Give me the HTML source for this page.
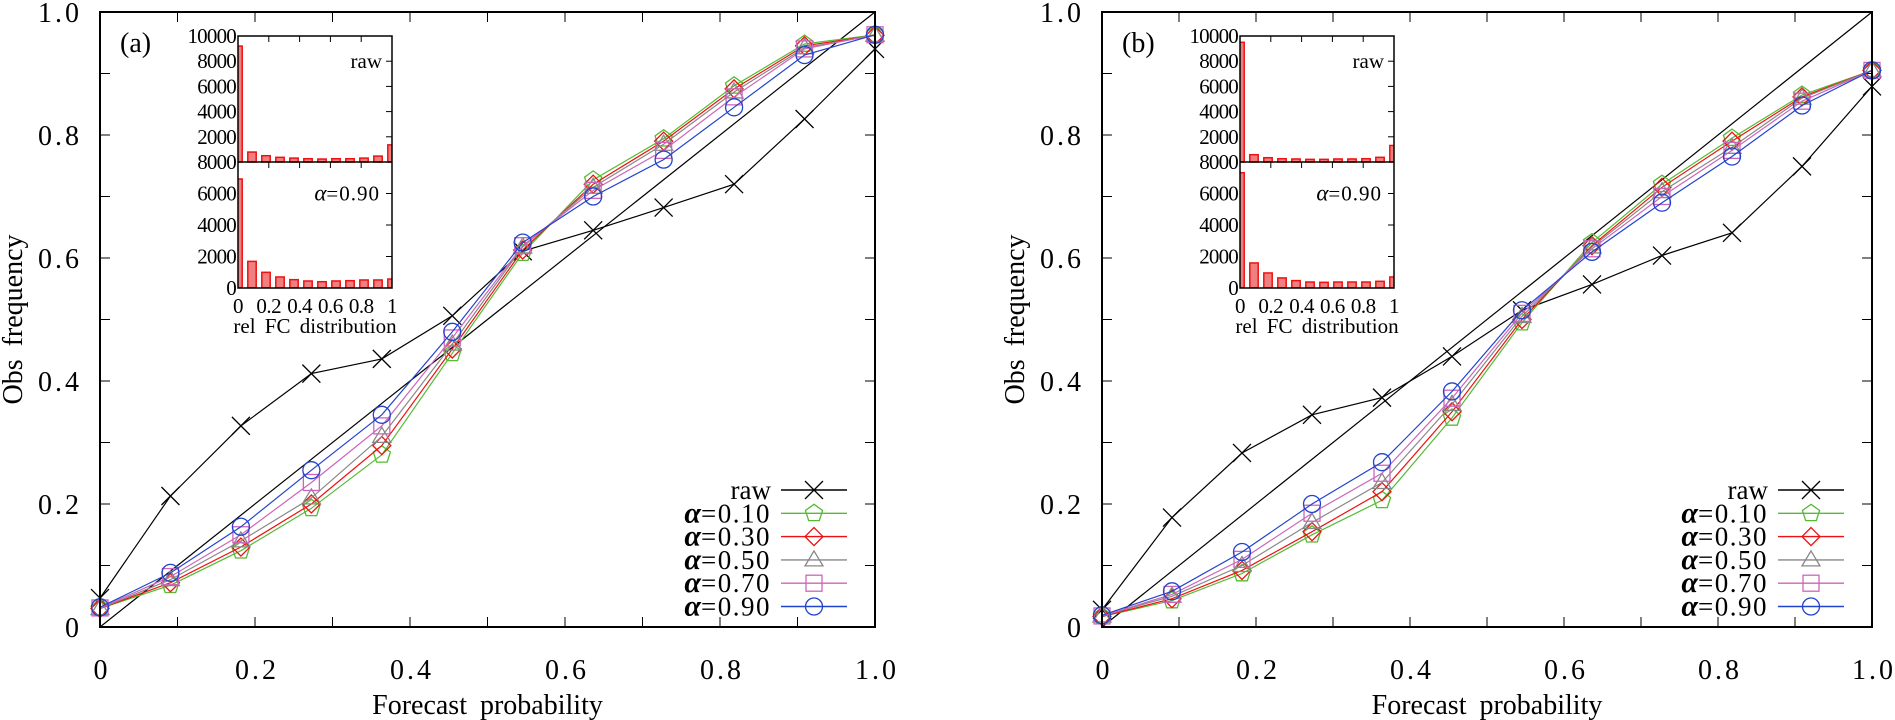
<!DOCTYPE html>
<html><head><meta charset="utf-8">
<style>
html,body{margin:0;padding:0;background:#fff;}
svg{display:block;}
svg text, svg tspan{font-family:"Liberation Serif","DejaVu Serif",serif;}
</style></head>
<body>
<svg id="chart" width="1895" height="720" viewBox="0 0 1895 720" xmlns="http://www.w3.org/2000/svg" font-family="Liberation Serif, serif"></svg>
<script>
// ---- data ----
const fcProb = [0,1/11,2/11,3/11,4/11,5/11,6/11,7/11,8/11,9/11,10/11,1];
const seriesNames = ["raw","α=0.10","α=0.30","α=0.50","α=0.70","α=0.90"];
const xTickLabels = ["0","0.2","0.4","0.6","0.8","1.0"];
const yTickLabels = ["0","0.2","0.4","0.6","0.8","1.0"];
const insetXLabels = ["0","0.2","0.4","0.6","0.8","1"];
const insetTopLabels = ["10000","8000","6000","4000","2000"];
const insetBotLabels = ["8000","6000","4000","2000","0"];

const aRaw  = [0.047,0.213,0.327,0.412,0.436,0.506,0.611,0.645,0.682,0.720,0.826,0.940];
const aA10  = [0.030,0.068,0.124,0.193,0.280,0.445,0.608,0.727,0.794,0.880,0.948,0.963];
const aA30  = [0.030,0.072,0.130,0.200,0.295,0.452,0.613,0.720,0.790,0.875,0.945,0.962];
const aA50  = [0.030,0.077,0.140,0.210,0.310,0.460,0.618,0.715,0.785,0.870,0.942,0.962];
const aA70  = [0.031,0.082,0.150,0.235,0.327,0.470,0.620,0.710,0.775,0.862,0.940,0.963];
const aA90  = [0.032,0.088,0.163,0.255,0.345,0.480,0.625,0.700,0.760,0.845,0.930,0.963];
const aHistRaw = [9200,790,500,370,310,260,235,260,260,310,470,1360];
const aHistA90 = [6920,1690,995,700,530,445,400,445,465,510,510,570];

const bRaw  = [0.028,0.178,0.283,0.345,0.373,0.440,0.515,0.557,0.604,0.641,0.749,0.879];
const bA10  = [0.017,0.043,0.087,0.150,0.206,0.340,0.495,0.625,0.720,0.795,0.865,0.905];
const bA30  = [0.017,0.046,0.092,0.155,0.220,0.350,0.500,0.620,0.715,0.790,0.862,0.905];
const bA50  = [0.018,0.050,0.100,0.170,0.235,0.362,0.505,0.618,0.708,0.780,0.860,0.905];
const bA70  = [0.018,0.053,0.110,0.185,0.250,0.372,0.510,0.615,0.700,0.775,0.855,0.905];
const bA90  = [0.019,0.058,0.122,0.200,0.268,0.383,0.515,0.610,0.690,0.765,0.848,0.905];
const bHistRaw = [9500,580,340,260,240,210,210,240,240,260,370,1310];
const bHistA90 = [7320,1590,955,640,470,380,360,380,380,380,425,700];

// ---- drawing ----
const NS="http://www.w3.org/2000/svg";
const svg=document.getElementById('chart');
function mk(tag,attrs,parent){const e=document.createElementNS(NS,tag);for(const k in attrs)e.setAttribute(k,attrs[k]);(parent||svg).appendChild(e);return e;}
const colors=["#000000","#55bb33","#ee1111","#888888","#cc66bb","#2244cc"];
const markerTypes=["cross","pentagon","diamond","triangle","square","circle"];

function marker(g,type,cx,cy,col){
  let e;
  if(type==="cross"){
    e=mk('path',{d:`M${cx-9},${cy-9}L${cx+9},${cy+9}M${cx-9},${cy+9}L${cx+9},${cy-9}`,stroke:col,'stroke-width':1.3,fill:'none'},g);
  }else if(type==="circle"){
    e=mk('circle',{cx:cx,cy:cy,r:8.5,stroke:col,'stroke-width':1.3,fill:'none'},g);
  }else if(type==="square"){
    e=mk('rect',{x:cx-8,y:cy-8,width:16,height:16,stroke:col,'stroke-width':1.3,fill:'none'},g);
  }else if(type==="diamond"){
    e=mk('path',{d:`M${cx},${cy-9}L${cx+9},${cy}L${cx},${cy+9}L${cx-9},${cy}Z`,stroke:col,'stroke-width':1.3,fill:'none'},g);
  }else if(type==="triangle"){
    e=mk('path',{d:`M${cx},${cy-9}L${cx+9},${cy+6}L${cx-9},${cy+6}Z`,stroke:col,'stroke-width':1.3,fill:'none'},g);
  }else{
    let p=[];for(let i=0;i<5;i++){const a=-Math.PI/2+i*2*Math.PI/5;p.push((cx+9*Math.cos(a)).toFixed(1)+','+(cy+9*Math.sin(a)).toFixed(1));}
    e=mk('polygon',{points:p.join(' '),stroke:col,'stroke-width':1.3,fill:'none'},g);
  }
  
  
  return e;
}

function drawInset(g,L,R,T,M,B,histRaw,histA90){
  const ix=v=>L+v*(R-L);
  const iyT=v=>M-v/10000*(M-T);
  const iyB=v=>B-v/8000*(B-M);
  const bw=(R-L)/11*0.6;
  const clip='clip'+L;
  const cp=mk('clipPath',{id:clip},g);mk('rect',{x:L,y:T,width:R-L,height:B-T},cp);
  const bars=mk('g',{'clip-path':`url(#${clip})`},g);
  
  
  histRaw.forEach((v,i)=>{const b=mk('rect',{x:ix(fcProb[i])-bw/2,y:iyT(v),width:bw,height:M-iyT(v),fill:'#f08080',stroke:'#ee1111','stroke-width':1.5},bars);
    });
  histA90.forEach((v,i)=>{const b=mk('rect',{x:ix(fcProb[i])-bw/2,y:iyB(v),width:bw,height:B-iyB(v),fill:'#f08080',stroke:'#ee1111','stroke-width':1.5},bars);
    });
  const fr=mk('rect',{x:L,y:T,width:R-L,height:B-T,fill:'none',stroke:'#000','stroke-width':1.5},g);
  
  mk('line',{x1:L,x2:R,y1:M,y2:M,stroke:'#000','stroke-width':1.5},g);
  for(let k=0;k<=5;k++){const x=ix(k/5);
    mk('line',{x1:x,x2:x,y1:T,y2:T+6,stroke:'#000','stroke-width':1},g);
    mk('line',{x1:x,x2:x,y1:M,y2:M+6,stroke:'#000','stroke-width':1},g);
    const t=mk('text',{x:x,y:B+25,'font-size':21,'text-anchor':'middle','letter-spacing':'-0.5'},g);t.textContent=insetXLabels[k];
    }
  insetTopLabels.forEach((s,k)=>{const v=10000-k*2000;const y=iyT(v);
    mk('line',{x1:R-6,x2:R,y1:y,y2:y,stroke:'#000','stroke-width':1},g);
    const t=mk('text',{x:L-2,y:y+7,'font-size':21,'text-anchor':'end','letter-spacing':'-0.8'},g);t.textContent=s;
    });
  insetBotLabels.forEach((s,k)=>{const v=8000-k*2000;const y=iyB(v);
    mk('line',{x1:R-6,x2:R,y1:y,y2:y,stroke:'#000','stroke-width':1},g);
    const t=mk('text',{x:L-2,y:y+7,'font-size':21,'text-anchor':'end','letter-spacing':'-0.8'},g);t.textContent=s;
    });
  const r=mk('text',{x:R-10,y:iyT(8000)+7,'font-size':21,'text-anchor':'end'},g);r.textContent='raw';
  
  const a=mk('text',{x:R-12,y:iyB(6000)+7,'font-size':21,'text-anchor':'end'},g);
  
  const ta=mk('tspan',{'font-style':'italic','font-size':23},a);ta.textContent='α';
  const tb=mk('tspan',{'letter-spacing':'1'},a);tb.textContent='=0.90';
  const xl=mk('text',{x:(L+R)/2,y:B+45,'font-size':21,'text-anchor':'middle','word-spacing':'4'},g);xl.textContent='rel FC distribution';
  
}

function drawPanel(name,L,R,series,histRaw,histA90,label){
  const T=12,B=627;
  const g=mk('g',{});
  
  
  const x=v=>L+v*(R-L), y=v=>B-v*(B-T);
  for(let k=0;k<=10;k++){
    const xx=x(k/10),yy=y(k/10);
    mk('line',{x1:xx,x2:xx,y1:B,y2:B-10,stroke:'#000','stroke-width':1},g);
    mk('line',{x1:xx,x2:xx,y1:T,y2:T+10,stroke:'#000','stroke-width':1},g);
    mk('line',{x1:L,x2:L+10,y1:yy,y2:yy,stroke:'#000','stroke-width':1},g);
    mk('line',{x1:R,x2:R-10,y1:yy,y2:yy,stroke:'#000','stroke-width':1},g);
  }
  xTickLabels.forEach((s,k)=>{const t=mk('text',{x:x(k/5)+2,y:B+52,'font-size':28,'text-anchor':'middle','letter-spacing':'3'},g);t.textContent=s;
    });
  yTickLabels.forEach((s,k)=>{const t=mk('text',{x:L-18,y:y(k/5)+10,'font-size':28,'text-anchor':'end','letter-spacing':'3'},g);t.textContent=s;
    });
  const xt=mk('text',{x:(L+R)/2,y:714,'font-size':28,'text-anchor':'middle','word-spacing':'6'},g);xt.textContent='Forecast probability';
  
  const yt=mk('text',{x:0,y:0,'font-size':28,'text-anchor':'middle','word-spacing':'6',transform:`translate(${L-78},${(T+B)/2}) rotate(-90)`},g);yt.textContent='Obs frequency';
  
  const pl=mk('text',{x:L+20,y:52,'font-size':28},g);pl.textContent=label;
  
  const d=mk('line',{x1:x(0),y1:y(0),x2:x(1),y2:y(1),stroke:'#000','stroke-width':1.2},g);
  
  series.forEach((vals,si)=>{
    const sg=mk('g',{},g);
    
    
    mk('polyline',{points:vals.map((v,i)=>x(fcProb[i]).toFixed(1)+','+y(v).toFixed(1)).join(' '),fill:'none',stroke:colors[si],'stroke-width':1.2},sg);
    vals.forEach((v,i)=>marker(sg,markerTypes[si],x(fcProb[i]),y(v),colors[si]));
  });
  const fr=mk('rect',{x:L,y:T,width:R-L,height:B-T,fill:'none',stroke:'#000','stroke-width':2},g);
  
  const lg=mk('g',{},g);
  
  
  seriesNames.forEach((s,si)=>{
    const yy=490+si*23.3;
    const e=mk('g',{},lg);
    
    
    mk('line',{x1:R-94,x2:R-28,y1:yy,y2:yy,stroke:colors[si],'stroke-width':1.4},e);
    marker(e,markerTypes[si],R-61,yy,colors[si]);
    const t=mk('text',{x:R-104,y:yy+9,'font-size':27,'text-anchor':'end'},e);
    if(si===0){t.textContent='raw';}
    else{const a=mk('tspan',{'font-style':'italic','font-weight':'bold','font-size':30},t);a.textContent='α';
      const b=mk('tspan',{'letter-spacing':'1.5'},t);b.textContent=s.slice(1);}
  });
  const ig=mk('g',{},g);
  
  
  drawInset(ig,L+138,L+292,36,162,288,histRaw,histA90);
}

drawPanel('a',100,875,[aRaw,aA10,aA30,aA50,aA70,aA90],aHistRaw,aHistA90,'(a)');
drawPanel('b',1102,1872,[bRaw,bA10,bA30,bA50,bA70,bA90],bHistRaw,bHistA90,'(b)');
</script>
</body></html>
